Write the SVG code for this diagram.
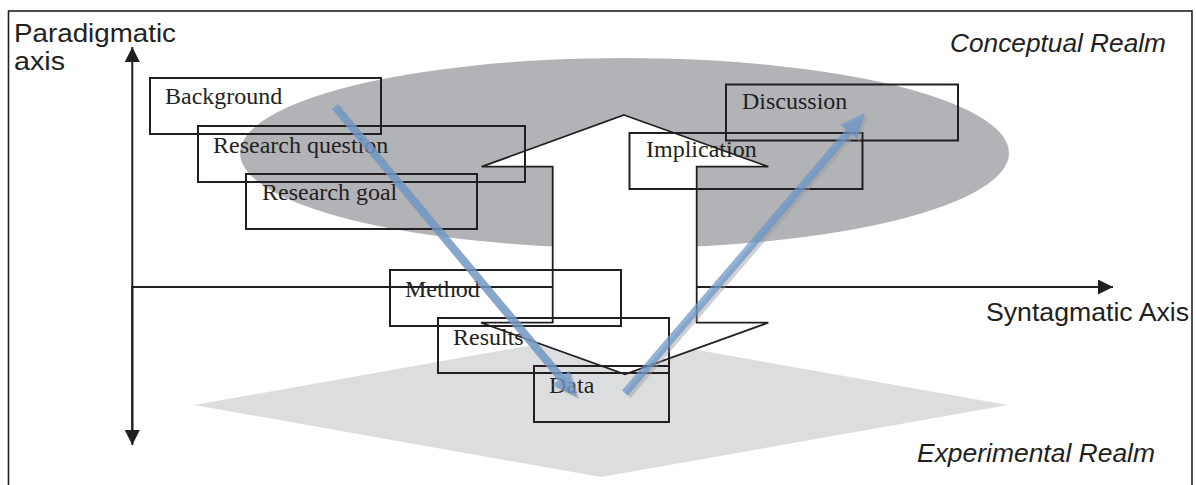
<svg xmlns="http://www.w3.org/2000/svg" width="1196" height="485" viewBox="0 0 1196 485">
<defs>
<style>
.box{fill:none;stroke:#231f20;stroke-width:2}
.lbl{font-family:"Liberation Serif","Times New Roman",serif;font-size:24px;fill:#231f20}
.ax{font-family:"Liberation Sans",Arial,sans-serif;font-size:25px;fill:#231f20}
.it{font-style:italic}
.axis{stroke:#231f20;stroke-width:2;fill:none}
.blue{fill:#6b96cb;fill-opacity:0.72}
.shadow{fill:#9a9a9a;fill-opacity:0.45}
</style>
<marker id="ah" viewBox="0 0 15 15" refX="15" refY="7.5" markerWidth="15" markerHeight="15" markerUnits="userSpaceOnUse" orient="auto">
<path d="M0,0 L15,7.5 L0,15 Z" fill="#231f20"/>
</marker>
</defs>
<rect width="1196" height="485" fill="#fff"/>
<rect x="8.5" y="11" width="1183.5" height="490" fill="none" stroke="#231f20" stroke-width="1.6"/>

<g id="realms">
<ellipse id="conceptual" cx="624.5" cy="153" rx="384.5" ry="95" fill="#b2b3b7"/>
<polygon id="experimental" points="194,405 601,333 1008,405 601,477" fill="#dcdddf"/>
</g>

<g id="axes">
<line class="axis" x1="132.3" y1="430" x2="132.3" y2="47" marker-end="url(#ah)"/>
<line class="axis" x1="132.3" y1="287" x2="132.3" y2="445" marker-end="url(#ah)"/>
<line class="axis" x1="131.3" y1="287" x2="1113" y2="287" marker-end="url(#ah)"/>
</g>

<g id="bigarrow">
<polygon points="624,115 768.3,166.7 696.7,166.7 696.7,322.7 768.3,322.7 625,374.3 481,322.7 552.7,322.7 552.7,166.7 481.7,166.7" fill="#fff" stroke="#231f20" stroke-width="1.8" stroke-linejoin="miter"/>
</g>

<g id="background"><rect class="box" x="150" y="78" width="231" height="56"/><text class="lbl" x="165" y="104">Background</text></g>
<g id="research-question"><rect class="box" x="198" y="126" width="327" height="56"/><text class="lbl" x="213" y="153">Research question</text></g>
<g id="research-goal"><rect class="box" x="246" y="174" width="231" height="55"/><text class="lbl" x="262" y="200">Research goal</text></g>
<g id="method"><rect class="box" x="390" y="270" width="231" height="56"/><text class="lbl" x="405" y="297">Method</text></g>
<g id="results"><rect class="box" x="438" y="318" width="231" height="55"/><text class="lbl" x="453" y="345">Results</text></g>
<g id="data"><rect class="box" x="534" y="366" width="135" height="56"/><text class="lbl" x="549" y="393">Data</text></g>
<g id="implication"><rect class="box" x="629.5" y="133" width="233" height="56"/><text class="lbl" x="646" y="157">Implication</text></g>
<g id="discussion"><rect class="box" x="726" y="84.5" width="232" height="56"/><text class="lbl" x="742" y="109">Discussion</text></g>

<g id="connectors">
<g transform="translate(2.5,2.5)">
<polygon class="shadow" points="331.9,109.1 557.9,380.4 552.6,384.9 577,397 569.4,370.8 564.1,375.2 338.1,103.9"/>
<polygon class="shadow" points="628,395.6 851.7,134.6 857.1,139.2 865,113 840.3,124.8 845.7,129.4 622,390.4"/>
</g>
<polygon class="blue" points="331.9,109.1 557.9,380.4 552.6,384.9 577,397 569.4,370.8 564.1,375.2 338.1,103.9"/>
<polygon class="blue" points="628,395.6 851.7,134.6 857.1,139.2 865,113 840.3,124.8 845.7,129.4 622,390.4"/>
</g>

<g id="labels">
<text class="ax" x="14" y="42" textLength="162" lengthAdjust="spacingAndGlyphs">Paradigmatic</text>
<text class="ax" x="14" y="70" textLength="51" lengthAdjust="spacingAndGlyphs">axis</text>
<text class="ax" x="986" y="321" textLength="203" lengthAdjust="spacingAndGlyphs">Syntagmatic Axis</text>
<text class="ax it" x="950" y="52" textLength="216" lengthAdjust="spacingAndGlyphs">Conceptual Realm</text>
<text class="ax it" x="917" y="462" textLength="238" lengthAdjust="spacingAndGlyphs">Experimental Realm</text>
</g>
</svg>
